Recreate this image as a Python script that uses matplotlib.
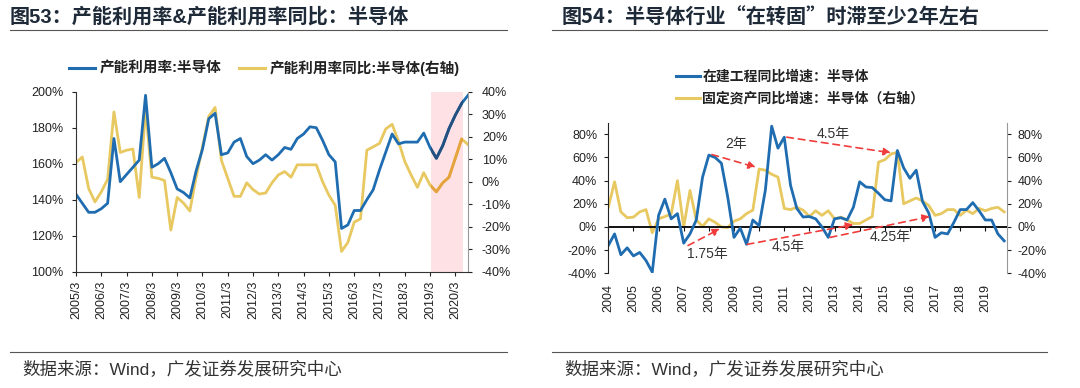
"""Two GF Securities style panels: semiconductor capacity utilisation (fig 53)
and CIP vs fixed-asset growth lag (fig 54)."""
import numpy as np
import matplotlib as mpl
mpl.use("Agg")
import matplotlib.pyplot as plt
from matplotlib.lines import Line2D
from matplotlib.patches import Rectangle

plt.rcParams['font.family'] = ['Liberation Sans', 'Noto Sans CJK SC', 'DejaVu Sans']

W, H = 1080, 388
BLUE, YEL = "#1f6db0", "#e8c860"
DBLUE, DYEL = "#24507f", "#e6a23e"

# ---- fig 53: quarterly 2005/3 .. 2020/9
util = [143, 138, 133, 133, 135, 138, 174, 150, 154, 158,
        162, 198, 158, 160, 163, 155, 146, 144, 141, 156,
        168, 185, 188, 165, 166, 172, 174, 164, 160, 162,
        165, 162, 165, 169, 168, 174, 176.5, 180.5, 180, 173,
        165, 161, 124, 126, 134, 134, 140, 145.5, 156.5, 166.5,
        176.5, 171, 172, 172, 172, 177, 169, 163, 170, 179.5,
        187, 193.5, 198]
util_yoy = [8.5, 11, -3, -9, -4.5, 1, 31, 13, 14, 14.5,
            -7, 32.5, 2, 1.5, 0.5, -21.5, -7, -9.5, -13, 2,
            15.5, 29, 33, 9.5, 1.5, -6.5, -6.5, -0.5, -3.5, -5.5,
            -5, -0.5, 3, 4.5, 2, 7.5, 7.5, 7.5, 7.5, 0,
            -6, -10.5, -31, -27, -18, -16.5, 14, 15.5, 17, 23.5,
            25.5, 18, 9, 3, -2.5, 4, -1.5, -4.5, -0.5, 2,
            10.5, 19, 16.5]
years53 = [f"{y}/3" for y in range(2005, 2021)]

# ---- fig 54: quarterly 2004Q1 .. 2019Q4
cip_yoy = [-16, -6, -24, -18, -25, -22, -29, -39, 10, 24,
           7, 11.5, -14, -6, 6, 43, 62, 60, 55, 26,
           -9, -1, -15, 6, 1, 32, 87, 68, 77.5, 36,
           16, 8.6, 9, 7, 0, -9, 7, 8, 6, 17,
           39, 34.5, 34, 29, 23.5, 22.5, 66, 51, 42, 49,
           22, 12, -9, -5, -6, 4, 15, 15, 21, 14,
           6, 6, -6, -12]
fa_yoy = [17, 39, 13, 8, 8.5, 13, 15, -5, 7, 9,
          11, 40, 0, 31.5, 6, 0.5, 7, 4, 0, -0.5,
          5, 7, 11.5, 14.5, 50, 49, 45.5, 43, 16, 15,
          17, 14.5, 9, 14, 10, 14, 7, 8.5, 6, 3,
          3, 6, 9, 56, 58, 63, 64.5, 20, 22.5, 25,
          22.5, 18.5, 10, 11.5, 15, 15, 10, 14.5, 11.5, 16,
          14, 16, 17, 13]
years54 = [str(y) for y in range(2004, 2020)]

pct = lambda v: f"{v:.0f}%"


def px_rect(x0, y0, x1, y1):
    return [x0 / W, 1 - y1 / H, (x1 - x0) / W, (y1 - y0) / H]


fig = plt.figure(figsize=(W / 100, H / 100), dpi=100)

# header / footer text and rules
for x0, x1, tx, title, fam in [
        (10, 507, 10, "图53：产能利用率&产能利用率同比：半导体", None),
        (552, 1047, 562, "图54：半导体行业“在转固”时滞至少2年左右", ["Noto Sans CJK SC"])]:
    kw = {"family": fam} if fam else {}
    fig.text(tx / W, 1 - 17 / H, title, fontsize=14.5, fontweight="bold",
             color="#1e2a38", va="center", ha="left", **kw)
    fig.add_artist(Line2D([x0 / W, x1 / W], [1 - 30 / H] * 2, color="#555555", lw=0.8))
    fig.add_artist(Line2D([x0 / W, x1 / W], [1 - 352 / H] * 2, color="#555555", lw=0.8))
    fig.text((x0 + 12) / W, 1 - 369 / H, "数据来源：Wind，广发证券发展研究中心",
             fontsize=12.6, color="#333333", va="center", ha="left")

# ================= fig 53 =================
x53 = np.arange(len(util))
ax = fig.add_axes(px_rect(76, 91.7, 468, 271.7))
ax2 = ax.twinx()
ax.set_zorder(ax2.get_zorder() + 1)
ax.patch.set_visible(False)

ax2.axvspan(56.2, 61.2, color="#fde1e4", lw=0, zorder=0)
ax2.plot(x53, util_yoy, color=YEL, lw=2.0, zorder=2)
ax.plot(x53, util, color=BLUE, lw=2.0, zorder=2)
# darker tint of lines inside the shaded window
l1, = ax.plot(x53, util, color=DBLUE, lw=2.0, zorder=3)
l1.set_clip_path(Rectangle((56.2, 0), 5.0, 1, transform=ax.get_xaxis_transform()))
l2, = ax2.plot(x53, util_yoy, color=DYEL, lw=2.0, zorder=3)
l2.set_clip_path(Rectangle((56.2, 0), 5.0, 1, transform=ax2.get_xaxis_transform()))

ax.set_xlim(0, 62)
ax.set_ylim(100, 200)
ax2.set_ylim(-40, 40)
ax.set_yticks(np.arange(100, 201, 20))
ax.set_yticklabels([pct(v) for v in np.arange(100, 201, 20)])
ax2.set_yticks(np.arange(-40, 41, 10))
ax2.set_yticklabels([pct(v) for v in np.arange(-40, 41, 10)])
ax.set_xticks(np.arange(0, 61, 4))
ax.set_xticklabels(years53, rotation=90)
for a in (ax, ax2):
    a.spines["top"].set_visible(False)
    a.tick_params(labelsize=9, colors="#222222", length=3, width=0.8)
ax.tick_params(axis="y", pad=6)
ax2.tick_params(axis="y", pad=7)
ax.spines["left"].set_color("#333333")
ax.spines["bottom"].set_color("#333333")
ax2.spines["right"].set_color("#999999")
ax2.spines["left"].set_visible(False)
ax2.spines["bottom"].set_visible(False)
ax.spines["right"].set_visible(False)

h53 = [Line2D([], [], color=BLUE, lw=2.2), Line2D([], [], color=YEL, lw=2.2)]
fig.legend(h53, ["产能利用率:半导体", "产能利用率同比:半导体(右轴)"], ncol=2,
           loc="center", bbox_to_anchor=(264 / W, 1 - 68 / H), frameon=False,
           prop={"size": 10.5, "weight": "bold"}, handlelength=1.8, handletextpad=0.3,
           columnspacing=1.2, borderpad=0, borderaxespad=0, labelcolor="#222222")

# ================= fig 54 =================
x54 = np.arange(len(cip_yoy))
ax3 = fig.add_axes(px_rect(608.3, 122.7, 1006.7, 273.3))
ax4 = ax3.twinx()
ax3.set_zorder(ax4.get_zorder() + 1)
ax3.patch.set_visible(False)

ax4.plot(x54, fa_yoy, color=YEL, lw=2.0)
ax3.plot(x54, cip_yoy, color=BLUE, lw=2.0)
ax3.axhline(0, color="#111111", lw=1.4, zorder=1)

ax3.set_xlim(0, 63.4)
for a in (ax3, ax4):
    a.set_ylim(-40, 90)
    a.set_yticks(np.arange(-40, 81, 20))
    a.set_yticklabels([pct(v) for v in np.arange(-40, 81, 20)])
    a.spines["top"].set_visible(False)
    a.spines["bottom"].set_visible(False)
    a.tick_params(labelsize=9, colors="#222222", length=3, width=0.8, pad=5)
ax3.spines["right"].set_visible(False)
ax4.spines["left"].set_visible(False)
ax3.spines["left"].set_color("#222222")
ax4.spines["right"].set_color("#999999")
ax3.set_xticks(np.arange(0, 64, 4))
ax3.set_xticklabels(years54, rotation=90)
ax3.tick_params(axis="x", length=0, pad=8)
zax = ax3.secondary_xaxis(40 / 130)
zax.set_xticks(np.arange(0, 64, 4))
zax.set_xticklabels([])
zax.tick_params(length=3, width=0.8, color="#111111")
zax.spines["bottom"].set_visible(False)

arr = dict(arrowstyle="-|>", color="#f03c3c", lw=1.2, linestyle=(0, (4, 3)),
           mutation_scale=11, shrinkA=0, shrinkB=0)
for (xs, ys), (xe, ye) in [((16.5, 62.5), (23.5, 51.5)),
                           ((12.7, -16), (17.8, -1.5)),
                           ((28.4, 77.5), (45, 64)),
                           ((22.1, -15), (39, 2)),
                           ((35.3, -9), (51.2, 9))]:
    ax3.annotate("", xy=(xe, ye), xytext=(xs, ys), arrowprops=arr, zorder=5)
for xt, yt, s in [(20.4, 72, "2年"), (15.8, -23.5, "1.75年"), (35.8, 80.5, "4.5年"),
                  (28.6, -17, "4.5年"), (44.8, -8.6, "4.25年")]:
    ax3.text(xt, yt, s, fontsize=10, color="#333333", ha="center", va="center", zorder=6)

h54 = [Line2D([], [], color=BLUE, lw=2.2), Line2D([], [], color=YEL, lw=2.2)]
fig.legend(h54, ["在建工程同比增速：半导体", "固定资产同比增速：半导体（右轴）"],
           loc="center left", bbox_to_anchor=(676 / W, 1 - 87.7 / H), frameon=False,
           prop={"size": 10, "weight": "bold"}, handlelength=1.7, handletextpad=0.2,
           labelspacing=0.6, borderpad=0, borderaxespad=0, labelcolor="#222222")

fig.savefig("out.png", dpi=100)
